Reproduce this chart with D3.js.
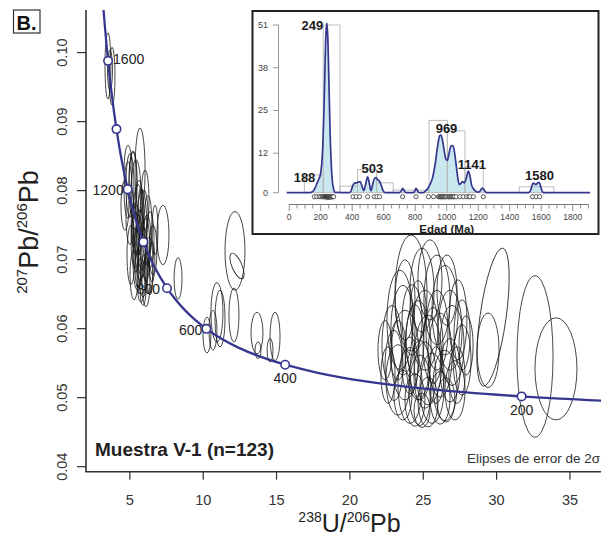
<!DOCTYPE html>
<html><head><meta charset="utf-8">
<script src="https://cdn.jsdelivr.net/npm/d3@7"></script>
<style>
html,body{margin:0;padding:0;background:#fff;}
svg{display:block;font-family:"Liberation Sans",Arial,Helvetica,sans-serif;}
</style></head><body>
<svg id="chart" width="601" height="539"></svg>
<script>
// ---------- DATA ----------
// Tera-Wasserburg concordia (age Ma, 238U/206Pb, 207Pb/206Pb)
const concAge = [1800,1750,1700,1600,1500,1400,1300,1200,1100,1000,900,800,750,700,650,600,550,500,450,400,350,300,250,200,170];
const concX = [3.104,3.206,3.314,3.550,3.817,4.123,4.476,4.888,5.374,5.958,6.674,7.568,8.105,8.718,9.426,10.252,11.228,12.399,13.831,15.621,17.923,20.992,25.290,31.735,37.422];
const concY = [0.1100,0.10707,0.10418,0.09873,0.09360,0.08884,0.08432,0.08013,0.07619,0.07249,0.06904,0.06579,0.06425,0.06276,0.06130,0.05990,0.05854,0.05722,0.05594,0.05470,0.05350,0.05233,0.05120,0.05011,0.04947];
const markerAges = [1600,1400,1200,1000,800,600,400,200];
const markerLabels = ["1600","","1200","","800","600","400","200"];

// 2-sigma error ellipses: centre, half-widths, rotation (deg)
const ellX = [3.54,3.82,3.68,
 5.73,5.25,4.91,5.04,5.45,6.07,5.04,5.59,5.86,6.27,5.39,5.73,6.13,6.41,5.52,5.93,6.34,5.32,5.79,6.13,6.61,6.75,4.70,5.11,5.66,6.00,5.45,5.93,5.59,6.41,4.91,5.25,5.86,6.20,5.66,6.00,5.45,6.54,5.79,5.32,
 7.29,8.32,10.70,10.97,11.18,10.29,12.20,12.34,12.13,13.70,14.93,13.77,14.59,29.79,29.45,32.65,34.08,
 24.20,24.95,23.45,25.97,26.52,22.90,23.79,24.68,25.36,26.18,26.99,27.68,23.31,24.13,24.81,25.63,26.52,27.20,24.47,25.36,26.18,23.65,25.15,26.86,25.97,23.04,24.27,22.43,27.40,24.81,25.49,26.65,23.79,24.47,25.70,25.15,23.65,26.86,27.68,22.63,24.68,25.90,24.13,26.58,24.95,23.31,27.95,27.33];
const ellY = [0.0980,0.0965,0.0974,
 0.0829,0.0814,0.0800,0.0807,0.0793,0.0786,0.0764,0.0757,0.0742,0.0749,0.0728,0.0720,0.0713,0.0728,0.0699,0.0696,0.0691,0.0677,0.0670,0.0667,0.0713,0.0742,0.0778,0.0706,0.0778,0.0764,0.0742,0.0655,0.0687,0.0677,0.0829,0.0807,0.0706,0.0728,0.0735,0.0681,0.0713,0.0696,0.0771,0.0749,
 0.0735,0.0672,0.0597,0.0623,0.0614,0.0590,0.0712,0.0690,0.0619,0.0593,0.0588,0.0568,0.0568,0.0616,0.0568,0.0559,0.0541,
 0.0651,0.0655,0.0612,0.0641,0.0626,0.0575,0.0561,0.0568,0.0554,0.0561,0.0575,0.0554,0.0525,0.0517,0.0510,0.0513,0.0517,0.0510,0.0496,0.0493,0.0499,0.0597,0.0597,0.0597,0.0597,0.0546,0.0612,0.0568,0.0612,0.0539,0.0670,0.0655,0.0641,0.0583,0.0575,0.0532,0.0503,0.0539,0.0590,0.0532,0.0626,0.0532,0.0546,0.0496,0.0481,0.0568,0.0575,0.0532];
const ellSX = [0.20,0.20,0.17,
 0.34,0.27,0.27,0.27,0.34,0.27,0.27,0.34,0.34,0.27,0.27,0.34,0.27,0.27,0.27,0.34,0.27,0.27,0.27,0.27,0.27,0.20,0.27,0.27,0.27,0.27,0.27,0.20,0.20,0.20,0.27,0.27,0.27,0.27,0.20,0.20,0.20,0.20,0.20,0.20,
 0.41,0.27,0.27,0.41,0.34,0.27,0.68,0.34,0.34,0.41,0.34,0.20,0.20,0.89,0.75,1.23,1.43,
 1.09,0.82,0.89,0.89,0.89,0.68,0.95,0.89,0.95,0.82,0.82,0.61,0.82,0.82,0.75,0.82,0.82,0.68,0.68,0.68,0.68,0.82,0.89,0.82,0.75,0.61,0.68,0.48,0.61,0.68,0.82,0.68,0.68,0.61,0.68,0.75,0.61,0.68,0.55,0.48,0.55,0.55,0.55,0.61,0.55,0.55,0.48,0.55];
const ellSY = [0.0048,0.0042,0.0029,
 0.0061,0.0043,0.0041,0.0046,0.0051,0.0043,0.0043,0.0051,0.0058,0.0043,0.0041,0.0051,0.0046,0.0041,0.0043,0.0051,0.0041,0.0036,0.0032,0.0036,0.0036,0.0036,0.0036,0.0043,0.0036,0.0036,0.0036,0.0022,0.0029,0.0029,0.0036,0.0048,0.0032,0.0036,0.0029,0.0026,0.0032,0.0029,0.0032,0.0032,
 0.0043,0.0030,0.0029,0.0043,0.0041,0.0026,0.0057,0.0020,0.0039,0.0030,0.0035,0.0012,0.0017,0.0101,0.0054,0.0117,0.0074,
 0.0084,0.0061,0.0072,0.0065,0.0065,0.0058,0.0065,0.0072,0.0065,0.0061,0.0058,0.0051,0.0051,0.0055,0.0051,0.0051,0.0051,0.0043,0.0038,0.0036,0.0038,0.0065,0.0058,0.0058,0.0058,0.0051,0.0051,0.0043,0.0058,0.0043,0.0058,0.0051,0.0058,0.0051,0.0055,0.0048,0.0036,0.0046,0.0051,0.0041,0.0043,0.0041,0.0041,0.0032,0.0025,0.0043,0.0043,0.0041];
const ellRot = [0,0,0,
 0,0,0,0,0,0,0,0,0,0,0,0,0,0,0,0,0,0,0,0,0,0,0,0,0,0,0,0,0,0,0,0,0,0,0,0,0,0,0,0,
 0,0,0,0,0,0,0,-23,0,0,0,0,0,8,0,0,0,
 0,0,0,0,0,0,0,0,0,0,0,0,0,0,0,0,0,0,0,0,0,0,0,0,0,0,0,0,0,0,0,0,0,0,0,0,0,0,0,0,0,0,0,0,0,0,0,0];

const xTicks = [5,10,15,20,25,30,35];
const yTicks = [0.04,0.05,0.06,0.07,0.08,0.09,0.10];

// Inset: probability density plot
const densAge = [-16,130,150,165,180,190,200,210,220,228,234,240,246,252,260,270,280,292,380,392,405,418,430,440,452,462,473,485,498,510,519,530,540,551,562,572,585,596,608,700,712,720,730,742,790,798,805,815,825,850,862,880,894,910,926,945,955,964,975,985,995,1004,1015,1027,1037,1047,1056,1064,1072,1080,1090,1099,1112,1125,1137,1148,1158,1170,1180,1195,1210,1220,1228,1238,1250,1260,1520,1532,1542,1550,1558,1567,1578,1588,1598,1610,1620,1910];
const densVal = [0,0,0.4,1.5,3.3,4.3,6,11,24,40,49,51.5,46,34,18,6,1.5,0.1,0,0.5,2.3,3.0,3.0,3.3,3.3,2.0,0.6,2.5,4.8,2.5,0.6,2.5,4.2,4.6,3.9,3.6,2.2,0.6,0,0,0.6,1.3,0.6,0,0,0.6,1.3,0.6,0,0,0.4,1.3,2.5,4.5,8.5,15,17.3,17.5,15.5,12.5,10.2,9.8,12,14.2,14.3,13,10,6.9,4,2.5,2.8,3.4,3.0,4.5,6.6,5,2.3,1.2,0.6,0.2,0.4,1.1,1.4,0.8,0.1,0,0,0.6,2.2,2.9,2.7,2.5,3.0,3.1,1.6,0.2,0,0];
const binStart = [96,216,322,434,555,660,888,1004,1116,1461];
const binEnd   = [216,322,434,555,660,888,1004,1116,1232,1681];
const binCount = [5.4,51,2,7,3,0.8,22,18.8,7.9,1.8];
const peakAge = [188,249,503,969,1141,1580];
const peakHeight = [4.5,51,4.8,17.5,6.6,3.1];
const grainAges = [160,175,190,200,210,215,220,225,228,230,232,234,236,238,240,241,242,243,244,245,246,247,248,249,250,251,252,253,254,255,256,258,260,262,264,266,268,270,272,275,278,282,
 405,426,447,498,540,557,574,720,805,
 884,916,947,955,960,965,968,972,975,980,985,990,995,1000,1010,1015,1020,1025,1030,1035,1040,1045,1050,1060,
 1084,1105,1126,1140,1148,1169,1232,1545,1568,1590];
const insetYTicks = [0,12,25,38,51];
const insetXTicks = [0,200,400,600,800,1000,1200,1400,1600,1800];

// ---------- DRAW ----------
const svg = d3.select("#chart");
const x = d3.scaleLinear().domain([2.045, 37.15]).range([86, 601]);
const y = d3.scaleLinear().domain([0.0392, 0.1061]).range([471.7, 10]);
const blue = "#36368f";

svg.append("defs").append("clipPath").attr("id","plotclip")
  .append("rect").attr("x",86).attr("y",10).attr("width",515).attr("height",461.7);
const plot = svg.append("g").attr("clip-path","url(#plotclip)");

// ellipses
plot.append("g").selectAll("ellipse").data(d3.range(ellX.length)).join("ellipse")
  .attr("cx", i => x(ellX[i])).attr("cy", i => y(ellY[i]))
  .attr("rx", i => x(ellX[i] + ellSX[i]) - x(ellX[i]))
  .attr("ry", i => y(ellY[i] - ellSY[i]) - y(ellY[i]))
  .attr("transform", i => ellRot[i] ? `rotate(${ellRot[i]},${x(ellX[i])},${y(ellY[i])})` : null)
  .attr("fill","none").attr("stroke","#161616").attr("stroke-width",0.9).attr("stroke-opacity",0.88);

// concordia
const cline = d3.line().x(d => x(d[0])).y(d => y(d[1])).curve(d3.curveCatmullRom);
plot.append("path").datum(concX.map((v,i) => [v, concY[i]]))
  .attr("d", cline).attr("fill","none").attr("stroke",blue).attr("stroke-width",2.3);

const markers = markerAges.map((a,k) => { const i = concAge.indexOf(a); return {age:a, X:concX[i], Y:concY[i], label:markerLabels[k]}; });
plot.append("g").selectAll("circle").data(markers).join("circle")
  .attr("cx", d => x(d.X)).attr("cy", d => y(d.Y)).attr("r",4.2)
  .attr("fill","#fff").attr("stroke",blue).attr("stroke-width",1.6);

const place = {1600:["start",5,3], 1200:["end",-4,5.5], 800:["end",-7,6], 600:["end",-4,6], 400:["middle",0,18], 200:["middle",0,19]};
svg.append("g").selectAll("text").data(markers.filter(d => d.label)).join("text")
  .attr("x", d => x(d.X) + place[d.age][1]).attr("y", d => y(d.Y) + place[d.age][2])
  .attr("text-anchor", d => place[d.age][0])
  .attr("font-size",14).attr("fill","#222").text(d => d.label);

// axes
const axisColor = "#333";
svg.append("line").attr("x1",86).attr("x2",86).attr("y1",10).attr("y2",471.7).attr("stroke",axisColor).attr("stroke-width",1.6);
svg.append("line").attr("x1",85.2).attr("x2",601).attr("y1",471.7).attr("y2",471.7).attr("stroke",axisColor).attr("stroke-width",1.6);

const gx = svg.append("g").attr("transform","translate(0,471.7)")
  .call(d3.axisBottom(x).tickValues(xTicks).tickSize(8).tickFormat(d3.format("d")));
gx.select(".domain").remove();
gx.selectAll("line").attr("stroke",axisColor).attr("stroke-width",1.2);
gx.selectAll("text").attr("y",23).attr("font-size",14.5).attr("fill","#333").attr("font-family",null);

const gy = svg.append("g").attr("transform","translate(86,0)")
  .call(d3.axisLeft(y).tickValues(yTicks).tickSize(9).tickFormat(d3.format(".2f")));
gy.select(".domain").remove();
gy.selectAll("line").attr("stroke",axisColor).attr("stroke-width",1.2);
gy.selectAll("text").attr("x",null).attr("dy",null).attr("text-anchor","middle")
  .attr("transform","translate(-19,0) rotate(-90)").attr("font-size",14.5).attr("fill","#333").attr("font-family",null);

// axis titles
const xt = svg.append("text").attr("x",349.5).attr("y",532).attr("text-anchor","middle").attr("fill","#222").attr("font-size",25);
xt.append("tspan").attr("font-size",14).attr("dy",-10).text("238");
xt.append("tspan").attr("dy",10).text("U/");
xt.append("tspan").attr("font-size",14).attr("dy",-10).text("206");
xt.append("tspan").attr("dy",10).text("Pb");

const yt = svg.append("text").attr("transform","translate(38,232) rotate(-90)").attr("text-anchor","middle").attr("fill","#222").attr("font-size",27);
yt.append("tspan").attr("font-size",15).attr("dy",-11).text("207");
yt.append("tspan").attr("dy",11).text("Pb/");
yt.append("tspan").attr("font-size",15).attr("dy",-11).text("206");
yt.append("tspan").attr("dy",11).text("Pb");

svg.append("text").attr("x",95).attr("y",456).attr("font-size",19).attr("font-weight","bold").attr("fill","#222").text("Muestra V-1 (n=123)");
svg.append("text").attr("x",600).attr("y",463).attr("text-anchor","end").attr("font-size",13.5).attr("fill","#333").text("Elipses de error de 2σ");

// panel letter
svg.append("rect").attr("x",13.5).attr("y",10).attr("width",26.5).attr("height",23).attr("fill","#fff").attr("stroke","#333").attr("stroke-width",1.2);
svg.append("text").attr("x",16.5).attr("y",29.5).attr("font-size",20).attr("font-weight","bold").attr("fill","#111").text("B.");

// ---------- INSET ----------
const inset = svg.append("g");
inset.append("rect").attr("x",252.5).attr("y",11).attr("width",346).attr("height",223)
  .attr("fill","#fff").attr("stroke","#222").attr("stroke-width",2);
const xi = d3.scaleLinear().domain([0,1800]).range([289.2,572.7]);
const yi = d3.scaleLinear().domain([0,51]).range([192.7,25]);

const dens = densAge.map((a,i) => [a, densVal[i]]);
inset.append("path").datum(dens)
  .attr("d", d3.area().x(d => xi(d[0])).y0(yi(0)).y1(d => yi(d[1])).curve(d3.curveMonotoneX))
  .attr("fill","#c9e7ef");
inset.append("g").selectAll("rect").data(d3.range(binStart.length)).join("rect")
  .attr("x", i => xi(binStart[i])).attr("width", i => xi(binEnd[i]) - xi(binStart[i]))
  .attr("y", i => yi(binCount[i])).attr("height", i => yi(0) - yi(binCount[i]))
  .attr("fill","none").attr("stroke","#b5b5b5").attr("stroke-width",0.9);
inset.append("path").datum(dens)
  .attr("d", d3.line().x(d => xi(d[0])).y(d => yi(d[1])).curve(d3.curveMonotoneX))
  .attr("fill","none").attr("stroke",blue).attr("stroke-width",1.7);

// grain markers
inset.append("g").selectAll("circle").data(grainAges).join("circle")
  .attr("cx", d => xi(d)).attr("cy",196.7).attr("r",2.1)
  .attr("fill","#fff").attr("stroke","#333").attr("stroke-width",0.8);

// peak labels
const pOff = {188:[-14.3,3.8],249:[-16,5],503:[4,-3.6],969:[4.7,-2.4],1141:[3,-1.7],1580:[1.4,-2.5]};
inset.append("g").selectAll("text").data(d3.range(peakAge.length)).join("text")
  .attr("x", i => xi(peakAge[i]) + pOff[peakAge[i]][0])
  .attr("y", i => yi(peakHeight[i]) + pOff[peakAge[i]][1])
  .attr("text-anchor","middle").attr("font-size",13).attr("font-weight","bold").attr("fill","#1a1a1a")
  .text(i => peakAge[i]);

// inset y axis
inset.append("line").attr("x1",278.5).attr("x2",278.5).attr("y1",yi(51)).attr("y2",yi(0)).attr("stroke","#999").attr("stroke-width",1);
inset.append("g").selectAll("line").data(insetYTicks).join("line")
  .attr("x1",273).attr("x2",278.5).attr("y1", d => yi(d)).attr("y2", d => yi(d)).attr("stroke","#999");
inset.append("g").selectAll("text").data(insetYTicks).join("text")
  .attr("x",268).attr("y", d => yi(d) + 3).attr("text-anchor","end").attr("font-size",9).attr("fill","#444").text(d => d);

// inset x axis
inset.append("line").attr("x1",xi(0)).attr("x2",xi(1900)).attr("y1",204.5).attr("y2",204.5).attr("stroke","#777").attr("stroke-width",1);
inset.append("g").selectAll("line").data(d3.range(0,1901,50)).join("line")
  .attr("x1", d => xi(d)).attr("x2", d => xi(d)).attr("y1",204.5).attr("y2", d => d % 200 === 0 ? 211 : 208.5)
  .attr("stroke","#777").attr("stroke-width",0.8);
inset.append("g").selectAll("text").data(insetXTicks).join("text")
  .attr("x", d => xi(d)).attr("y",220).attr("text-anchor","middle").attr("font-size",8.5).attr("fill","#444").text(d => d);
inset.append("text").attr("x",446.7).attr("y",232.8).attr("text-anchor","middle").attr("font-size",11.5).attr("font-weight","bold").attr("fill","#222").text("Edad (Ma)");
</script>
</body></html>
